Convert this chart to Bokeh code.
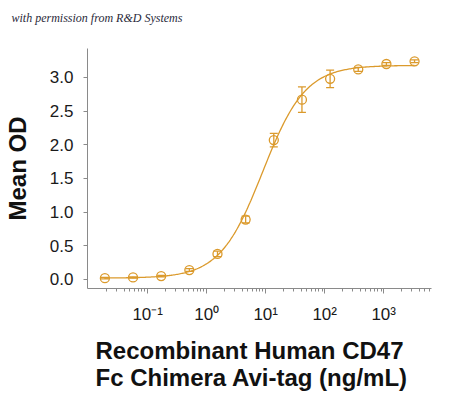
import numpy as np
from bokeh.plotting import figure
from bokeh.models import (ColumnDataSource, Range1d, FixedTicker, Whisker, TeeHead,
                          Title, NumeralTickFormatter)
from bokeh.embed import file_html
from bokeh.resources import INLINE

# ---- data ----
conc = [0.01882, 0.05645, 0.1694, 0.5081, 1.524, 4.572, 13.72, 41.15, 123.5, 370.4, 1111.0, 3333.0]
mean_od = [0.02, 0.03, 0.05, 0.14, 0.38, 0.89, 2.07, 2.67, 2.98, 3.12, 3.20, 3.24]
od_err = [0.01, 0.01, 0.01, 0.02, 0.04, 0.05, 0.10, 0.19, 0.13, 0.03, 0.02, 0.02]

# 4-parameter logistic fit parameters
fit_bottom = 0.02
fit_top = 3.18
fit_ec50 = 8.9
fit_hill = 1.2

x_ticks = [0.1, 1, 10, 100, 1000]
x_tick_labels = ["10\u207b\u00b9", "10\u2070", "10\u00b9", "10\u00b2", "10\u00b3"]
y_ticks = [0.0, 0.5, 1.0, 1.5, 2.0, 2.5, 3.0]
x_title_lines = ["Recombinant Human CD47", "Fc Chimera Avi-tag (ng/mL)"]
y_title = "Mean OD"
credit = "with permission from R&D Systems"

COLOR = "#DB9A2C"
FONT = "Liberation Sans"

src = ColumnDataSource(dict(
    x=conc, y=mean_od,
    upper=[m + e for m, e in zip(mean_od, od_err)],
    lower=[m - e for m, e in zip(mean_od, od_err)],
))

xs = np.logspace(np.log10(conc[0]), np.log10(conc[-1]), 300)
ys = fit_bottom + (fit_top - fit_bottom) / (1.0 + (fit_ec50 / xs) ** fit_hill)

p = figure(width=434, height=395, x_axis_type="log",
           x_range=Range1d(10 ** -2.02, 10 ** 3.81), y_range=Range1d(-0.134, 3.43),
           output_backend="svg", toolbar_location=None,
           min_border_left=84, min_border_right=6, min_border_top=48, min_border_bottom=8)
p.frame_width = 344
p.frame_height = 240
p.outline_line_color = None
p.grid.visible = False
p.background_fill_color = "white"
p.border_fill_color = "white"

p.line(xs, ys, line_color=COLOR, line_width=1.3)
p.add_layout(Whisker(source=src, base="x", upper="upper", lower="lower",
                     line_color=COLOR, line_width=1.3,
                     upper_head=TeeHead(size=8, line_color=COLOR, line_width=1.3),
                     lower_head=TeeHead(size=8, line_color=COLOR, line_width=1.3)))
p.scatter("x", "y", source=src, marker="circle", size=9, fill_alpha=0,
          line_color=COLOR, line_width=1.3)

# x axis
minor = [m * d for d in [0.01, 0.1, 1, 10, 100, 1000] for m in range(2, 10)]
p.xaxis.ticker = FixedTicker(ticks=x_ticks, minor_ticks=minor)
p.xaxis.major_label_overrides = {t: l for t, l in zip(x_ticks, x_tick_labels)}
# y axis
p.yaxis.ticker = FixedTicker(ticks=y_ticks)
p.yaxis.formatter = NumeralTickFormatter(format="0.0")

for ax in (p.xaxis, p.yaxis):
    ax.axis_line_color = "#8a8a8a"
    ax.major_tick_line_color = "#8a8a8a"
    ax.minor_tick_line_color = "#8a8a8a"
    ax.major_tick_in = 0
    ax.minor_tick_in = 0
    ax.major_label_text_font = FONT
    ax.major_label_text_font_size = "17px"
    ax.major_label_text_color = "#1a1a1a"
p.xaxis.major_tick_out = 5
p.xaxis.minor_tick_out = 3
p.xaxis.major_label_standoff = 11
p.yaxis.major_tick_out = 4
p.yaxis.minor_tick_out = 0
p.yaxis.major_label_standoff = 10

p.yaxis.axis_label = y_title
p.yaxis.axis_label_text_font = FONT
p.yaxis.axis_label_text_font_style = "bold"
p.yaxis.axis_label_text_font_size = "24px"
p.yaxis.axis_label_text_color = "#111111"
p.yaxis.axis_label_standoff = 16

p.add_layout(Title(text="\n".join(x_title_lines), align="left", offset=8, text_font=FONT,
                   text_font_style="bold", text_font_size="24px", text_line_height=1.0,
                   text_color="#111111", standoff=16), "below")

# credit line; the blank second line lifts it towards the top edge
p.add_layout(Title(text=credit + "\n ", align="left", offset=-76, text_font="Liberation Serif",
                   text_font_style="italic", text_font_size="12px", text_color="#2a2a3a",
                   vertical_align="top", standoff=15), "above")

open("out.html", "w").write(file_html(p, INLINE))
